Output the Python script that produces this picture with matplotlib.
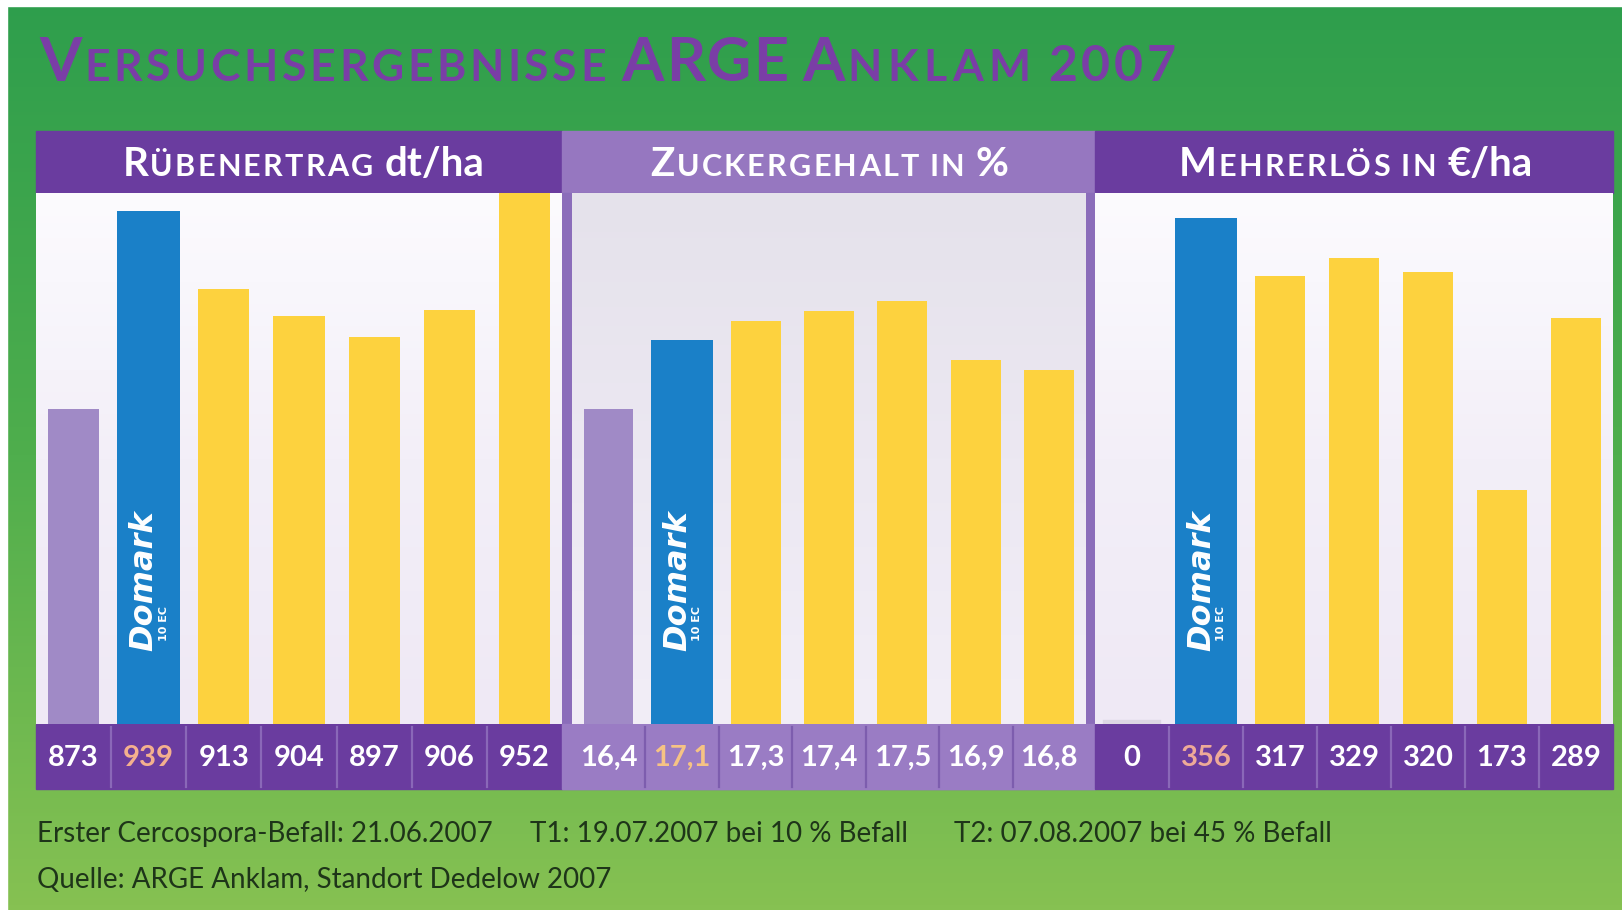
import numpy as np
import matplotlib
matplotlib.use('Agg')
import matplotlib.pyplot as plt
from matplotlib.patches import Rectangle
from matplotlib.colors import LinearSegmentedColormap
import matplotlib.transforms as mtrans

# data
ertrag = [873, 939, 913, 904, 897, 906, 952]
zucker = [16.4, 17.1, 17.3, 17.4, 17.5, 16.9, 16.8]
erloes = [0, 356, 317, 329, 320, 173, 289]
ertrag_labels = [str(v) for v in ertrag]
zucker_labels = [f"{v:.1f}".replace('.', ',') for v in zucker]
erloes_labels = [str(v) for v in erloes]
domark_idx = 1

W, H = 1622, 910
fig = plt.figure(figsize=(W / 100, H / 100), dpi=100)
plt.rcParams['font.family'] = ['Lato', 'DejaVu Sans']

DARK = '#6a3c9f'
LIGHT = '#9677c0'
BLUE = '#1a80c8'
YELLOW = '#fdd23e'
REFC = '#a08ac6'

bg = fig.add_axes([0, 0, 1, 1], zorder=0)
bg.axis('off')

def grad(ax, x0, x1, y0, y1, cols, z=0):
    cm = LinearSegmentedColormap.from_list('g', cols)
    ax.imshow(np.linspace(0, 1, 256).reshape(-1, 1), cmap=cm, aspect='auto',
              extent=[x0, x1, y1, y0], zorder=z, interpolation='bicubic')

grad(bg, 0, W, 0, H, ['#2e9e4c', '#4fae4d', '#86c152'])
bg.add_patch(Rectangle((0, 0), W, 6, color='white', zorder=1))
bg.add_patch(Rectangle((0, 0), 7, H, color='white', zorder=1))

# header bands, frame, value rows
bg.add_patch(Rectangle((36, 131), 526, 62, color=DARK, zorder=1))
bg.add_patch(Rectangle((562, 131), 533, 62, color=LIGHT, zorder=1))
bg.add_patch(Rectangle((1095, 131), 518, 62, color=DARK, zorder=1))
bg.add_patch(Rectangle((562, 193), 533, 596, color='#8b6dba', zorder=1))
bg.add_patch(Rectangle((36, 724), 526, 65, color=DARK, zorder=2))
bg.add_patch(Rectangle((562, 724), 533, 65, color='#9a7cc4', zorder=2))
bg.add_patch(Rectangle((1095, 724), 518, 65, color=DARK, zorder=2))

# panel backgrounds
grad(bg, 36, 562, 193, 724, ['#fcfbfe', '#f3eff8', '#efe9f5'], z=2)
grad(bg, 572, 1086, 193, 724, ['#e5e2eb', '#ece8f2', '#f2eef7'], z=2)
grad(bg, 1095, 1613, 193, 724, ['#fcfbfe', '#f3eff8', '#efe9f5'], z=2)
bg.set_xlim(0, W)
bg.set_ylim(H, 0)

panels = [
    (36, 562, ertrag, ertrag_labels, (768, 945), REFC, '#8a68b8', '#f4b08e'),
    (572, 1086, zucker, zucker_labels, (13.2, 18.6), REFC, '#7d5dae', '#f6c384'),
    (1095, 1613, erloes, erloes_labels, (15, 373), '#ddd6e4', '#8a68b8', '#eeaa98'),
]
y_top, y_bot = 193, 724
row_c = (y_bot - 757.5) / (y_bot - y_top)

for x0, x1, vals, labs, ylim, refc, sepc, hic in panels:
    ax = fig.add_axes([x0 / W, 1 - y_bot / H, (x1 - x0) / W, (y_bot - y_top) / H], zorder=1)
    ax.patch.set_alpha(0)
    xs = np.arange(len(vals))
    b0 = ylim[0]
    colors = [refc] + [BLUE] + [YELLOW] * (len(vals) - 2)
    widths = [0.67, 0.84] + [0.68] * (len(vals) - 2)
    ax.bar(xs, np.array(vals) - b0, bottom=b0, width=widths, color=colors, zorder=2,
           edgecolor=[refc if v == 0 else 'none' for v in vals], linewidth=6)
    ax.set_xlim(-0.5, len(vals) - 0.5)
    ax.set_ylim(*ylim)
    ax.axis('off')
    tr = mtrans.blended_transform_factory(ax.transData, ax.transAxes)
    for i, lab in enumerate(labs):
        ax.text(i, row_c, lab, transform=tr, ha='center', va='center',
                fontsize=21, fontweight='bold',
                color=hic if i == domark_idx else 'white', clip_on=False)
    for i in range(len(vals) - 1):
        ax.plot([i + 0.5, i + 0.5], [-0.118, -0.006], transform=tr, color=sepc,
                lw=1.6, clip_on=False, zorder=3)
    ax.text(domark_idx - 0.06, 0.27, 'Domark', transform=tr, rotation=90,
            ha='center', va='center', fontsize=23, fontweight='bold',
            fontstyle='italic', family='DejaVu Sans', color='white', zorder=4)
    ax.text(domark_idx + 0.2, 0.19, '10 EC', transform=tr, rotation=90,
            ha='center', va='center', fontsize=8, fontweight='bold',
            family='DejaVu Sans', color='white', zorder=4)

renderer = fig.canvas.get_renderer()

def pieces(x, y, parts, ha='left', **kw):
    objs = []
    for p in parts:
        if isinstance(p, (int, float)):
            objs.append((None, p))
            continue
        s, size, track = p if len(p) == 3 else (p[0], p[1], 0)
        chunks = list(s) if track else [s]
        for c in chunks:
            t = fig.text(0, 0, c, fontsize=size, va='baseline', **kw)
            w = t.get_window_extent(renderer).width + 1
            objs.append((t, w))
            if track:
                objs.append((None, track))
    total = sum(w for _, w in objs)
    cur = x - total / 2 if ha == 'center' else x
    for t, w in objs:
        if t is not None:
            t.set_position((cur / W, 1 - y / H))
        cur += w

pieces(39, 81, [("V", 44), 2, ("ERSUCHSERGEBNISSE", 32, 2.6), 12, ("ARGE", 44, 0.8), 12,
                ("A", 44), 2, ("NKLAM", 32, 4.5), 12, ("2007", 36, 3)],
       color='#7a3ea6', fontweight='bold')

hkw = dict(color='white', fontweight='bold')
pieces(304, 176, [("R", 29), 1, ("ÜBENERTRAG", 22, 1.2), 10, ("dt/ha", 29)], ha='center', **hkw)
pieces(830, 176, [("Z", 29), 1, ("UCKERGEHALT", 22, 1.2), 9, ("IN", 22, 1.2), 9, ("%", 29)], ha='center', **hkw)
pieces(1356, 176, [("M", 29), 1, ("EHRERLÖS", 22, 1.2), 9, ("IN", 22, 1.2), 9, ("€/ha", 29)], ha='center', **hkw)

fkw = dict(fontsize=20, color='#1e3519', va='baseline', fontweight='normal')
fig.text(37 / W, 1 - 842 / H, "Erster Cercospora-Befall: 21.06.2007", **fkw)
fig.text(530 / W, 1 - 842 / H, "T1: 19.07.2007 bei 10 % Befall", **fkw)
fig.text(954 / W, 1 - 842 / H, "T2: 07.08.2007 bei 45 % Befall", **fkw)
fig.text(37 / W, 1 - 888 / H, "Quelle: ARGE Anklam, Standort Dedelow 2007", **fkw)

fig.savefig('out.png', dpi=100)
